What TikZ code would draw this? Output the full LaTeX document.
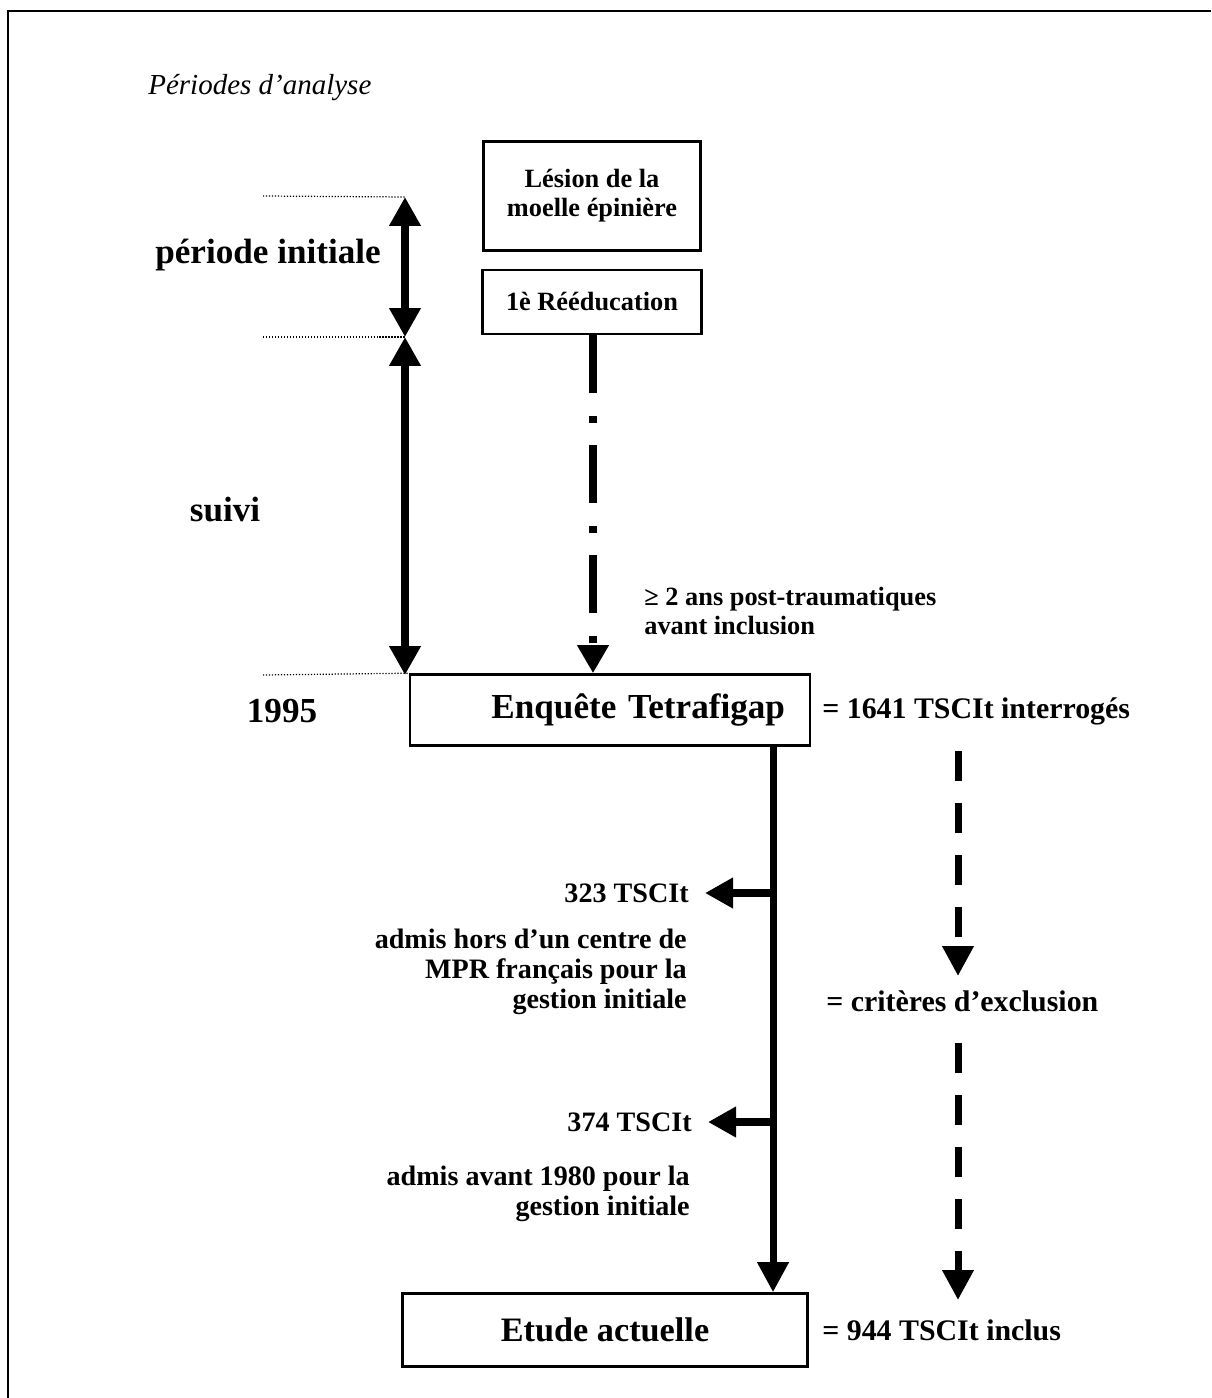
\documentclass[tikz,border=0pt]{standalone}
\usepackage{fontspec}
\setmainfont{Liberation Serif}
\usetikzlibrary{arrows.meta,positioning,calc}

\begin{document}
\begin{tikzpicture}[x=0.02cm, y=-0.02cm,
    boite/.style={draw, line width=1.5pt, inner sep=0pt, align=center, font=\fontsize{15}{16.5}\selectfont\bfseries},
    grand/.style={inner sep=0pt, font=\fontsize{20}{24}\selectfont\bfseries},
    texte/.style={inner sep=0pt, align=right, font=\fontsize{16}{17}\selectfont\bfseries},
    cote/.style={inner sep=0pt, anchor=west, font=\fontsize{17}{20}\selectfont\bfseries},
    repere/.style={densely dotted, line width=0.7pt},
    duree/.style={line width=4.5pt, {Triangle[width=0.6cm,length=0.58cm]}-{Triangle[width=0.6cm,length=0.58cm]}},
    branche/.style={line width=4pt, -{Triangle[width=0.58cm,length=0.56cm]}},
    delaifl/.style={line width=4pt, dash pattern=on 1.16cm off 0.46cm on 0.14cm off 0.44cm, -{Triangle[width=0.6cm,length=0.56cm]}},
    tirets/.style={line width=4pt, dash pattern=on 0.6cm off 0.44cm, -{Triangle[width=0.6cm,length=0.6cm]}}]

    \useasboundingbox (0,0) rectangle (1211,1398);

    % cadre (coupe a droite et en bas)
    \draw[line width=1.4pt] (8,1398) -- (8,11) -- (1211,11);

    % titre
    \node[inner sep=0pt, anchor=west, font=\fontsize{16.5}{20}\selectfont\itshape] (titre) at (148,88) {Périodes d’analyse};

    % boites de la chaine
    \node[boite, minimum width=4.34cm, minimum height=2.18cm] (lesion) at (592,196) {Lésion de la\\moelle épinière};
    \node[boite, minimum width=4.38cm, minimum height=1.28cm] (reeduc) at (592,302) {1è Rééducation};
    \node[boite, minimum width=8cm, minimum height=1.42cm, inner xsep=0.5cm, text width=7cm, align=right,
          font=\fontsize{20}{24}\selectfont\bfseries] (enquete) at (610,710) {Enquête Tetrafigap};
    \node[boite, minimum width=8.1cm, minimum height=1.46cm,
          font=\fontsize{19.5}{24}\selectfont\bfseries] (etude) at (605,1330) {Etude actuelle};

    % periodes d'analyse a gauche
    \coordinate (t0) at (405,197);
    \coordinate (t1) at (405,337);
    \coordinate (t2) at (405,675);
    \draw[repere] (263,196) -- (t0);
    \draw[repere] (263,337) -- (t1);
    \draw[repere] (263,675) -- (enquete.north west);
    \draw[duree] (t0) -- (t1);
    \draw[duree] (t1) -- (t2);
    \node[grand] (initiale) at (268,255) {période initiale};
    \node[grand] (suivi) at (225,510) {suivi};
    \node[grand] (annee) at (282,711) {1995};

    % delai avant inclusion
    \draw[delaifl] (reeduc.south -| 593,0) -- (enquete.north -| 593,0);
    \node[inner sep=0pt, anchor=west, align=left, font=\fontsize{15}{16}\selectfont\bfseries] (delai) at (644,611)
        {≥ 2 ans post-traumatiques\\avant inclusion};

    % tronc principal et exclusions
    \coordinate (tronc) at (773,0);
    \draw[line width=4pt, -{Triangle[width=0.6cm,length=0.6cm]}] (tronc |- enquete.south) -- (tronc |- etude.north);
    \coordinate (b1) at (773,893);
    \coordinate (b2) at (773,1122);
    \node[texte, anchor=east, inner xsep=0.32cm] (n323) at (705,893) {323 TSCIt};
    \node[texte, anchor=east] (motif1) at (687,972) {admis hors d’un centre de\\MPR français pour la\\gestion initiale};
    \node[texte, anchor=east, inner xsep=0.32cm] (n374) at (708,1122) {374 TSCIt};
    \node[texte, anchor=east] (motif2) at (690,1194) {admis avant 1980 pour la\\gestion initiale};
    \draw[branche] (b1) -- (n323.east);
    \draw[branche] (b2) -- (n374.east);

    % effectifs a droite
    \node[cote] (interro) at (822,711) {= 1641 TSCIt interrogés};
    \node[cote] (exclu) at (826,1001) {= critères d’exclusion};
    \node[cote] (inclus) at (822,1330) {= 944 TSCIt inclus};
    \coordinate (d0) at (958,751);
    \coordinate (d1) at (958,976);
    \coordinate (d2) at (958,1043);
    \coordinate (d3) at (958,1300);
    \draw[tirets] (d0) -- (d1);
    \draw[tirets] (d2) -- (d3);
\end{tikzpicture}
\end{document}
